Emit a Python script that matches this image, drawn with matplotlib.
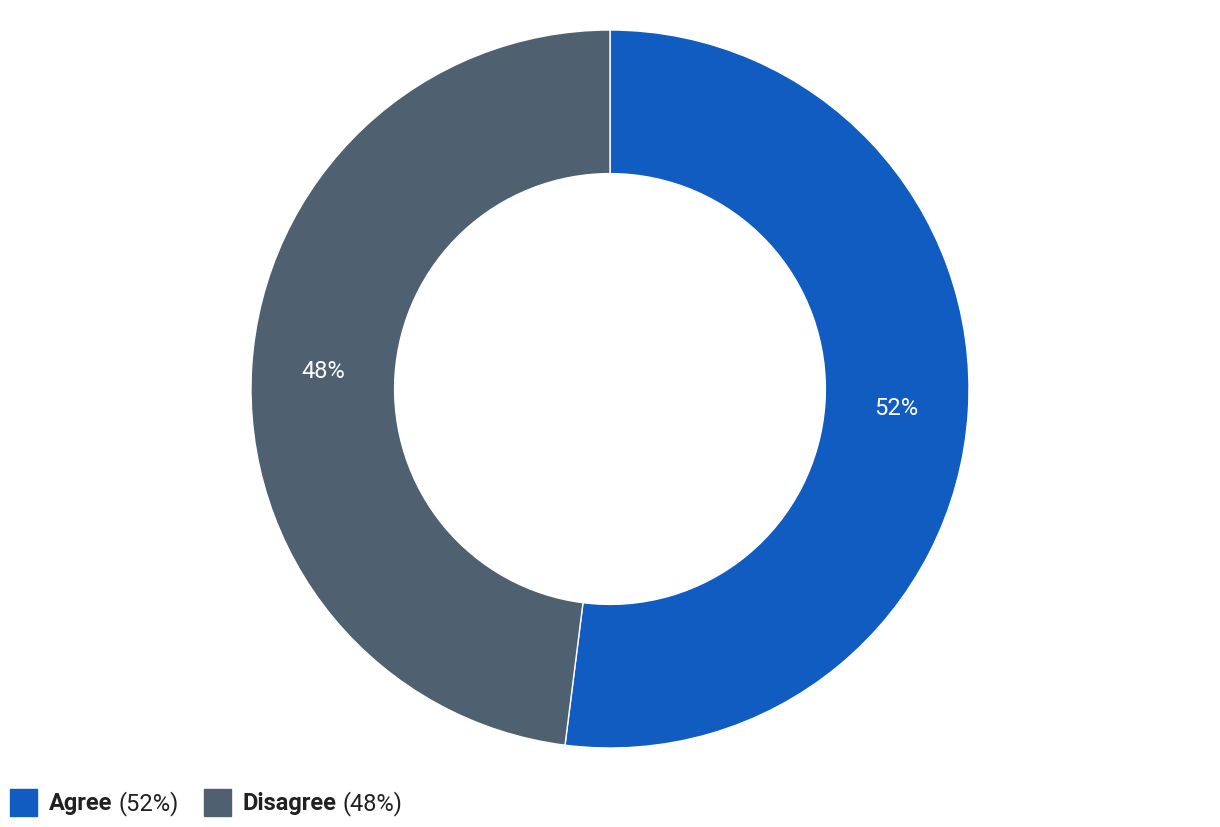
import matplotlib
matplotlib.use('Agg')
import matplotlib.pyplot as plt
from matplotlib.patches import Rectangle

plt.rcParams['font.family'] = ['Roboto', 'DejaVu Sans']

labels = ['Agree', 'Disagree']
values = [52, 48]
colors = ['#105CC1', '#4F6071']

W, H = 1220, 828
fig = plt.figure(figsize=(W / 100, H / 100), dpi=100)

# donut: centre (610, 390) px, outer radius 359 px
cx, cy, r = 610, 390, 359
ax = fig.add_axes([(cx - r) / W, (H - cy - r) / H, 2 * r / W, 2 * r / H])
wedges, texts, autotexts = ax.pie(
    values, colors=colors, startangle=90, counterclock=False, radius=1,
    autopct='%d%%', pctdistance=0.8,
    wedgeprops=dict(width=0.4, edgecolor='white', linewidth=1),
    textprops=dict(color='white', fontsize=17))
ax.set_xlim(-1, 1)
ax.set_ylim(-1, 1)
ax.set_aspect('equal')
ax.axis('off')

# legend drawn by hand: bold name + regular percentage
fig.canvas.draw()
renderer = fig.canvas.get_renderer()
x = 10
ybox = H - 817
for lab, val, col in zip(labels, values, colors):
    fig.patches.append(Rectangle((x / W, ybox / H), 27 / W, 27 / H,
                                 transform=fig.transFigure, color=col))
    x += 39
    t1 = fig.text(x / W, (H - 804) / H, lab, fontsize=17, fontweight='bold',
                  color='#212121', va='center')
    x += t1.get_window_extent(renderer).width + 6
    t2 = fig.text(x / W, (H - 804) / H, '(%d%%)' % val, fontsize=17,
                  color='#212121', va='center')
    x += t2.get_window_extent(renderer).width + 25

fig.savefig('out.png', dpi=100)
